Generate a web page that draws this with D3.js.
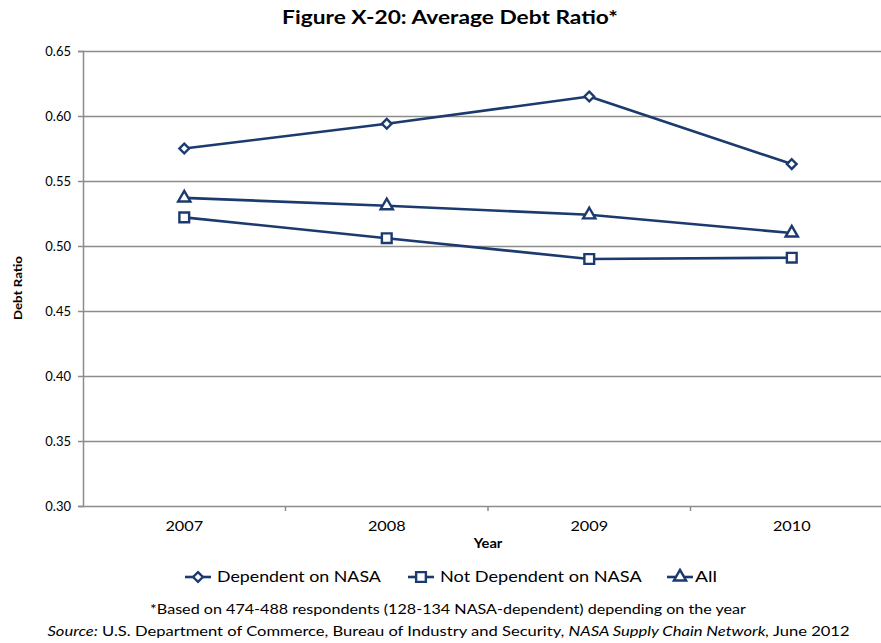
<!DOCTYPE html>
<html>
<head>
<meta charset="utf-8">
<script src="https://cdn.jsdelivr.net/npm/d3@7"></script>
<style>
  html, body { margin: 0; padding: 0; background: #fff; }
  svg { display: block; }
  text { font-family: Lato, "Open Sans", sans-serif; fill: #000; }
</style>
</head>
<body>
<svg id="chart" width="881" height="643"></svg>
<script>
const years = ["2007", "2008", "2009", "2010"];
const dependentOnNASA = [0.575, 0.594, 0.615, 0.563];
const notDependentOnNASA = [0.522, 0.506, 0.490, 0.491];
const allRespondents = [0.537, 0.531, 0.524, 0.510];
const seriesNames = ["Dependent on NASA", "Not Dependent on NASA", "All"];
const yTicks = [0.30, 0.35, 0.40, 0.45, 0.50, 0.55, 0.60, 0.65];

const titleText = "Figure X-20: Average Debt Ratio*";
const footnoteText = "*Based  on 474-488 respondents (128-134 NASA-dependent) depending on the year";

const series = [
  { name: seriesNames[0], values: dependentOnNASA, symbol: d3.symbolDiamond2, size: 60 },
  { name: seriesNames[1], values: notDependentOnNASA, symbol: d3.symbolSquare, size: 95 },
  { name: seriesNames[2], values: allRespondents, symbol: d3.symbolTriangle, size: 65 }
];

const lineColor = "#1b3a6e";
const gridColor = "#8c8c8c";

const svg = d3.select("#chart");
const W = 881, H = 643;
const plot = { left: 83, right: 893, top: 51, bottom: 506 };

// horizontally stretch a text element to a target width about its anchor point
function stretch(sel, target, cx) {
  const w = sel.node().getBBox().width;
  const k = target / w;
  sel.attr("transform", `translate(${cx},0) scale(${k},1) translate(${-cx},0)`);
}

const x = d3.scaleBand().domain(years).range([plot.left, plot.right]).paddingInner(0).paddingOuter(0);
const y = d3.scaleLinear().domain([0.30, 0.65]).range([plot.bottom, plot.top]);

// Title
const title = svg.append("text")
  .attr("x", 450).attr("y", 24)
  .attr("text-anchor", "middle")
  .style("font-size", "18px").style("font-weight", "bold")
  .text(titleText);
stretch(title, 336, 450);

// Gridlines
svg.append("g")
  .selectAll("line")
  .data(yTicks.filter(d => d > 0.30))
  .join("line")
  .attr("x1", plot.left).attr("x2", W)
  .attr("y1", d => Math.round(y(d)) + 0.5).attr("y2", d => Math.round(y(d)) + 0.5)
  .attr("stroke", gridColor).attr("stroke-width", 1.5);

// Y axis
const yAxis = d3.axisLeft(y).tickValues(yTicks).tickFormat(d3.format(".2f")).tickSize(5).tickPadding(7);
const gy = svg.append("g").attr("transform", `translate(${plot.left},0)`).call(yAxis);
gy.select(".domain").attr("stroke", gridColor).attr("stroke-width", 1.5);
gy.selectAll(".tick line").attr("stroke", gridColor).attr("stroke-width", 1.5);
gy.selectAll(".tick text").style("font-size", "13px").style("font-family", "Lato, sans-serif").attr("fill", "#000");

// X axis
const xAxis = d3.axisBottom(x).tickSize(0).tickPadding(16);
const gx = svg.append("g").attr("transform", `translate(0,${plot.bottom})`).call(xAxis);
gx.select(".domain").remove();
gx.append("line").attr("x1", plot.left).attr("x2", W).attr("y1", 0.5).attr("y2", 0.5)
  .attr("stroke", gridColor).attr("stroke-width", 1.5);
gx.selectAll(".tick text").style("font-size", "13px").style("font-family", "Lato, sans-serif")
  .attr("fill", "#000").attr("transform", "scale(1.25,1)");
// band boundary ticks
const boundaries = years.map(d => x(d)).concat([x(years[years.length - 1]) + x.bandwidth()]);
gx.append("g").selectAll("line").data(boundaries.slice(1))
  .join("line")
  .attr("x1", d => d).attr("x2", d => d).attr("y1", 0).attr("y2", 5)
  .attr("stroke", gridColor).attr("stroke-width", 1.5);

// Axis titles
const yearT = svg.append("text")
  .attr("x", 488).attr("y", 548)
  .attr("text-anchor", "middle")
  .style("font-size", "13px").style("font-weight", "bold")
  .text("Year");
stretch(yearT, 30, 488);
svg.append("text")
  .attr("transform", `translate(22,288) rotate(-90)`)
  .attr("text-anchor", "middle")
  .attr("textLength", 64).attr("lengthAdjust", "spacingAndGlyphs")
  .style("font-size", "12px").style("font-weight", "bold")
  .text("Debt Ratio");

// Lines and markers
const line = d3.line().x((d, i) => x(years[i]) + x.bandwidth() / 2).y(d => y(d));
const gs = svg.append("g");
series.forEach(s => {
  gs.append("path")
    .datum(s.values)
    .attr("d", line)
    .attr("fill", "none")
    .attr("stroke", lineColor)
    .attr("stroke-width", 2.6)
    .attr("stroke-linejoin", "round");
  gs.selectAll(null).data(s.values).join("path")
    .attr("transform", (d, i) => `translate(${x(years[i]) + x.bandwidth() / 2},${y(d)})`)
    .attr("d", d3.symbol().type(s.symbol).size(s.size))
    .attr("fill", "#fff")
    .attr("stroke", lineColor)
    .attr("stroke-width", 2.4);
});

// Legend
const legendItems = [
  { x: 185, tx: 217, w: 165 },
  { x: 408, tx: 440, w: 203 },
  { x: 667, tx: 695, w: 22 }
];
const lg = svg.append("g");
series.forEach((s, i) => {
  const it = legendItems[i];
  const ly = 577;
  lg.append("line").attr("x1", it.x).attr("x2", it.x + 26).attr("y1", ly).attr("y2", ly)
    .attr("stroke", lineColor).attr("stroke-width", 2.6);
  lg.append("path")
    .attr("transform", `translate(${it.x + 13},${ly})`)
    .attr("d", d3.symbol().type(s.symbol).size(s.size))
    .attr("fill", "#fff").attr("stroke", lineColor).attr("stroke-width", 2.4);
  const t = lg.append("text").attr("x", it.tx).attr("y", ly + 5.5)
    .style("font-size", "15px")
    .text(s.name);
  stretch(t, it.w, it.tx);
});

// Footnote
const foot = svg.append("text")
  .attr("x", 448).attr("y", 614)
  .attr("text-anchor", "middle")
  .style("font-size", "12.5px")
  .text(footnoteText);
stretch(foot, 597, 448);

// Source line
const src = svg.append("text").attr("x", 448.5).attr("y", 636).attr("text-anchor", "middle").style("font-size", "12.5px");
src.append("tspan").style("font-style", "italic").text("Source:");
src.append("tspan").text(" U.S. Department  of Commerce,  Bureau  of Industry and Security,  ");
src.append("tspan").style("font-style", "italic").text("NASA Supply Chain Network,");
src.append("tspan").text(" June 2012");
stretch(src, 803, 448.5);
</script>
</body>
</html>
